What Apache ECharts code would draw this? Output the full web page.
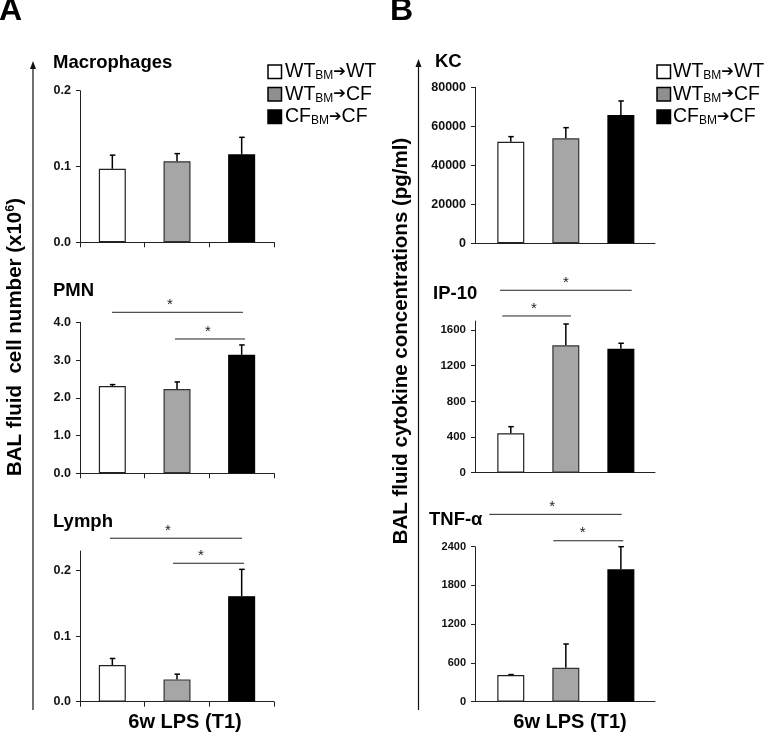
<!DOCTYPE html>
<html><head><meta charset="utf-8">
<script src="https://cdn.jsdelivr.net/npm/echarts@6/dist/echarts.min.js"></script>
<style>html,body{margin:0;padding:0;background:#fff}#c{width:771px;height:739px}</style>
</head><body><div id="c"></div>
<script>
// ---------- data ----------
const groupFrom = ['WT', 'WT', 'CF'];
const groupSub = 'BM';
const groupTo = ['WT', 'CF', 'CF'];
const groupPos = [0, 1, 2];

const macroMean = [0.097, 0.107, 0.116];
const macroErr  = [0.018, 0.010, 0.0225];
const macroTicks = [0, 0.1, 0.2];

const pmnMean = [2.31, 2.23, 3.14];
const pmnErr  = [0.04, 0.19, 0.26];
const pmnTicks = [0, 1, 2, 3, 4];
const pmnSig = [[-0.005, 2.02, 4.265, 0.89], [0.969, 2.051, 3.558, 1.478]];

const lymphMean = [0.056, 0.034, 0.161];
const lymphErr  = [0.010, 0.008, 0.041];
const lymphTicks = [0, 0.1, 0.2];
const lymphSig = [[-0.036, 2.005, 0.2495, 0.861], [0.938, 2.036, 0.2113, 1.371]];

const kcMean = [52100, 53850, 65800];
const kcErr  = [2600, 5450, 7200];
const kcTicks = [0, 20000, 40000, 60000, 80000];

const ipMean = [442, 1428, 1390];
const ipErr  = [74, 239, 61];
const ipTicks = [0, 400, 800, 1200, 1600];
const ipSig = [[-0.196, 2.197, 2045, 1.0], [-0.154, 1.094, 1757, 0.422]];

const tnfMean = [413, 526, 2050];
const tnfErr  = [7, 367, 350];
const tnfTicks = [0, 600, 1200, 1800, 2400];
const tnfSig = [[-0.39, 2.015, 2901, 0.754], [0.772, 2.044, 2492, 1.306]];

const panelTitles = ['Macrophages', 'PMN', 'Lymph', 'KC', 'IP-10', 'TNF-\u03b1'];
const xLabel = '6w LPS (T1)';
const yTitleA = 'BAL fluid  cell number (x10';
const yTitleB = 'BAL fluid cytokine concentrations (pg/ml)';

// ---------- layout / style ----------
const FONT = '"Liberation Sans", Arial, Helvetica, sans-serif';
const barFill = ['#ffffff', '#a6a6a6', '#000000'];
const barBorder = ['#222', '#333', '#000'];
const legendFill = ['#ffffff', '#8f8f8f', '#000000'];
const AX = '#222';

const panels = [
  {mean: macroMean, err: macroErr, sig: [], ticks: macroTicks, dec: 1, ymax: 0.2,
   grid: {left: 80, top: 90.7, width: 194, height: 151.6}, xmin: -0.5, xmax: 2.5, xt: true, fs: 12.5},
  {mean: pmnMean, err: pmnErr, sig: pmnSig, ticks: pmnTicks, dec: 1, ymax: 4,
   grid: {left: 80, top: 322.3, width: 194, height: 151}, xmin: -0.5, xmax: 2.5, xt: true, fs: 12.5},
  {mean: lymphMean, err: lymphErr, sig: lymphSig, ticks: lymphTicks, dec: 1, ymax: 0.23,
   grid: {left: 80, top: 551, width: 194, height: 150.7}, xmin: -0.5, xmax: 2.5, xt: true, fs: 12.5},
  {mean: kcMean, err: kcErr, sig: [], ticks: kcTicks, dec: 0, ymax: 80000,
   grid: {left: 475, top: 87.3, width: 180, height: 156}, xmin: -0.65, xmax: 2.62, xt: false, fs: 12.5},
  {mean: ipMean, err: ipErr, sig: ipSig, ticks: ipTicks, dec: 0, ymax: 1700,
   grid: {left: 475, top: 321.05, width: 180, height: 151.65}, xmin: -0.65, xmax: 2.62, xt: false, fs: 11.5},
  {mean: tnfMean, err: tnfErr, sig: tnfSig, ticks: tnfTicks, dec: 0, ymax: 2400,
   grid: {left: 475, top: 546.7, width: 180, height: 155}, xmin: -0.65, xmax: 2.62, xt: false, fs: 11}
];

const grids = [], xAxes = [], yAxes = [], series = [];
panels.forEach((p, i) => {
  grids.push(Object.assign({containLabel: false}, p.grid));
  xAxes.push({
    type: 'value', gridIndex: i, min: p.xmin, max: p.xmax,
    axisLine: {show: true, onZero: false, lineStyle: {color: AX, width: 1}},
    axisLabel: {show: false}, splitLine: {show: false},
    axisTick: p.xt ? {show: true, inside: false, length: 5, lineStyle: {color: AX},
      customValues: [p.xmin, p.xmin + 1, p.xmin + 2, p.xmax]} : {show: false}
  });
  yAxes.push({
    type: 'value', gridIndex: i, min: 0, max: p.ymax,
    axisLine: {show: true, onZero: false, lineStyle: {color: AX, width: 1}},
    splitLine: {show: false},
    axisTick: {show: true, inside: false, length: 4, lineStyle: {color: AX}, customValues: p.ticks},
    axisLabel: {show: true, customValues: p.ticks, margin: 9, color: '#111',
      fontFamily: FONT, fontWeight: 'bold', fontSize: p.fs,
      formatter: v => p.dec ? Number(v).toFixed(p.dec) : String(v)}
  });
  series.push({
    type: 'bar', xAxisIndex: i, yAxisIndex: i, barWidth: 27, animation: false,
    data: groupPos.map((x, k) => ({value: [x, p.mean[k]],
      itemStyle: {color: barFill[k], borderColor: barBorder[k], borderWidth: 1.2}}))
  });
  series.push({
    type: 'custom', xAxisIndex: i, yAxisIndex: i, animation: false, z: 5, clip: false,
    data: groupPos.map((x, k) => [x, p.mean[k], p.err[k]]),
    encode: {x: 0, y: 1},
    renderItem: (params, api) => {
      const x = api.value(0), m = api.value(1), e = api.value(2);
      const a = api.coord([x, m]), b = api.coord([x, m + e]);
      const st = {stroke: '#000', lineWidth: 1.5};
      return {type: 'group', children: [
        {type: 'line', shape: {x1: a[0], y1: a[1], x2: b[0], y2: b[1]}, style: st},
        {type: 'line', shape: {x1: b[0] - 2.5, y1: b[1], x2: b[0] + 3, y2: b[1]}, style: st}
      ]};
    }
  });
  if (p.sig.length) {
    series.push({
      type: 'custom', xAxisIndex: i, yAxisIndex: i, animation: false, z: 6, clip: false,
      data: p.sig, encode: {x: [0, 1, 3], y: 2},
      renderItem: (params, api) => {
        const a = api.coord([api.value(0), api.value(2)]);
        const b = api.coord([api.value(1), api.value(2)]);
        const s = api.coord([api.value(3), api.value(2)]);
        return {type: 'group', children: [
          {type: 'line', shape: {x1: a[0], y1: a[1], x2: b[0], y2: b[1]}, style: {stroke: '#222', lineWidth: 1}},
          {type: 'text', x: s[0], y: a[1] - 7.5, style: {text: '*', fill: '#222', fontSize: 15,
            fontFamily: FONT, align: 'center', verticalAlign: 'middle'}}
        ]};
      }
    });
  }
});

// ---------- annotations (text, legends, big arrows) ----------
const graphic = [];
function txt(x, y, text, size, weight) {
  graphic.push({type: 'text', x: x, y: y, silent: true,
    style: {text: text, fontSize: size, fontWeight: weight, fontFamily: FONT, fill: '#000',
      align: 'left', verticalAlign: 'middle'}});
}
txt(-1, 11, 'A', 32, 'bold');
txt(390, 11, 'B', 32, 'bold');
const titlePos = [[53, 63], [53, 291], [53, 522], [435, 62], [433, 294], [429, 520]];
panelTitles.forEach((t, i) => txt(titlePos[i][0], titlePos[i][1], t, 18.5, 'bold'));
[185, 570].forEach(cx => graphic.push({type: 'text', x: cx, y: 722, style: {text: xLabel, fontSize: 20,
  fontWeight: 'bold', fontFamily: FONT, fill: '#000', align: 'center', verticalAlign: 'middle'}}));

// y titles
graphic.push({type: 'text', x: 15, y: 337, rotation: Math.PI / 2,
  style: {text: '{t|' + yTitleA + '}{p|6}{t|)}', align: 'center', verticalAlign: 'middle',
    rich: {t: {fontSize: 20.5, fontWeight: 'bold', fontFamily: FONT, fill: '#000', lineHeight: 22},
           p: {fontSize: 12.5, fontWeight: 'bold', fontFamily: FONT, fill: '#000', lineHeight: 12, verticalAlign: 'top'}}}});
graphic.push({type: 'text', x: 401, y: 341, rotation: Math.PI / 2,
  style: {text: yTitleB, fontSize: 20.5, fontWeight: 'bold', fontFamily: FONT, fill: '#000',
    align: 'center', verticalAlign: 'middle'}});

// big arrows
[[33, 710, 61], [418.5, 710, 59]].forEach(a => {
  graphic.push({type: 'line', shape: {x1: a[0], y1: a[1], x2: a[0], y2: a[2] + 5}, style: {stroke: '#111', lineWidth: 1.2}});
  graphic.push({type: 'polygon', shape: {points: [[a[0], a[2]], [a[0] - 3, a[2] + 8], [a[0] + 3, a[2] + 8]]}, style: {fill: '#111'}});
});

// legends
const legendRows = [72, 94.5, 117];
[[268, 285], [657, 673]].forEach(L => {
  groupFrom.forEach((g, k) => {
    const y = legendRows[k];
    graphic.push({type: 'rect', shape: {x: L[0], y: y - 7, width: 13.5, height: 13.5},
      style: {fill: legendFill[k], stroke: '#000', lineWidth: 1.5}});
    graphic.push({type: 'text', x: L[1], y: y, style: {
      text: '{m|' + g + '}{s|' + groupSub + '}{a|\u2794}{m|' + groupTo[k] + '}',
      align: 'left', verticalAlign: 'middle',
      rich: {m: {fontSize: 19.5, fontFamily: FONT, fill: '#000', lineHeight: 20},
             s: {fontSize: 12, fontFamily: FONT, fill: '#000', lineHeight: 6, verticalAlign: 'bottom'},
             a: {fontSize: 15, fontFamily: '"DejaVu Sans", sans-serif', fill: '#000', lineHeight: 20}}}});
  });
});

const chart = echarts.init(document.getElementById('c'), null, {renderer: 'canvas'});
chart.setOption({
  animation: false, backgroundColor: '#fff',
  grid: grids, xAxis: xAxes, yAxis: yAxes, series: series, graphic: graphic
});
</script></body></html>
